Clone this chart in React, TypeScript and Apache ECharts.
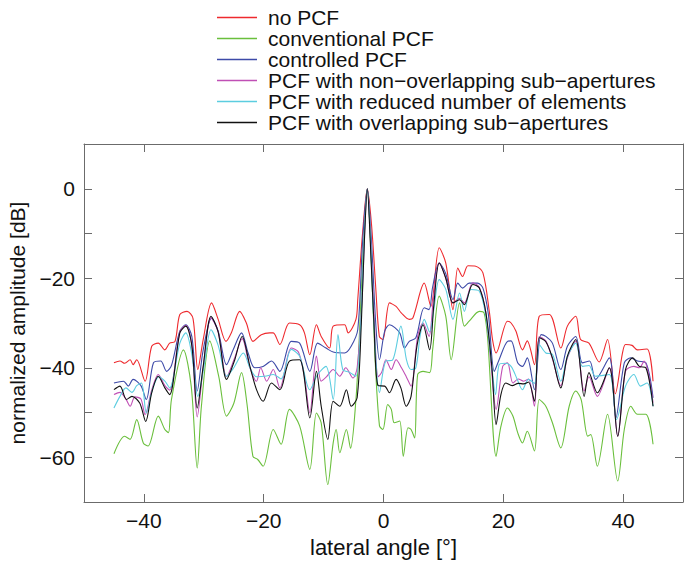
import React, { useEffect, useRef } from 'react';
import * as echarts from 'echarts';

const FONT = '"Liberation Sans", Arial, Helvetica, sans-serif';
const AXIS_COLOR = '#6b6b6b';

const seriesNames = [
  'no PCF',
  'conventional PCF',
  'controlled PCF',
  'PCF with non\u2212overlapping sub\u2212apertures',
  'PCF with reduced number of elements',
  'PCF with overlapping sub\u2212apertures',
];
const seriesColors = ['#ee2a2e', '#6abf3c', '#3d4aa8', '#c04fb5', '#5ccde0', '#111111'];

const xTicks = [-40, -20, 0, 20, 40];

// no PCF
const noPcfAngle = [-45,-44,-43.2,-42.3,-41.8,-41.2,-39.8,-38.7,-37.6,-36.5,-35.7,-34.8,-34,-32.8,-31.8,-31,-30.1,-28.7,-27.6,-26.3,-25.4,-24,-22.9,-21.8,-20.4,-19,-18.4,-17.3,-15.7,-14,-13.2,-12.3,-11.2,-10.4,-9,-8.4,-6.5,-5.9,-4.6,-4.3,-3.5,-2.7,-2.0,-1.3,-0.7,-0.1,1,2.1,3,4.3,4.9,6.8,7.9,9.3,10.4,11.6,12.4,13.2,14.1,15.4,16.6,17.7,18.2,18.8,20.7,21.3,22.1,23.2,24,25.2,26,27.7,29.6,30.7,32.1,32.9,34.3,36,37.4,38.7,39.9,40.4,41.5,42.4,44,45];
const noPcfDb = [-38.9,-38.5,-39,-38.2,-39.3,-38.2,-43,-35.2,-34.5,-36,-34.5,-34.1,-28.1,-27.4,-29,-40.4,-33.7,-25.5,-29.2,-34.1,-32.2,-27.4,-30,-34.1,-32.6,-32.2,-32.2,-34.8,-30,-30.4,-32.2,-37.1,-30.4,-33,-35.6,-30.7,-30.4,-32.2,-29.2,-24.8,-10,0,-8,-22,-33,-33.7,-25.5,-26.3,-27.8,-29.2,-28.9,-21.1,-26.3,-13.2,-16.6,-27,-17.7,-19.6,-17.2,-17.3,-18.8,-27.8,-33.7,-36.7,-29.6,-30,-31.8,-36,-34,-39.3,-28.5,-28.1,-35.6,-30.7,-28.5,-33.7,-34.5,-38.7,-33.7,-45.8,-36.7,-34.8,-35,-36,-35.8,-43];

// conventional PCF
const convAngle = [-45,-43.2,-42.3,-41.2,-40.1,-39.3,-37.6,-36.5,-35.9,-35.4,-33.4,-32.1,-31.1,-30.4,-29,-27.5,-26.2,-25,-23.7,-22.8,-21.8,-21,-20.1,-18.4,-17.1,-15.7,-14,-12.3,-11.2,-10.4,-9.3,-8.4,-7.9,-7.3,-6.2,-5.5,-4.6,-4.1,-3.4,-2.7,-2.1,-1.4,-0.67,-0.1,0.7,1.3,1.8,2.7,3.3,4.1,4.6,5.2,5.7,6.6,7.7,8.2,9.3,10.4,11.3,12.7,13.5,14.3,16,16.8,17.4,18.8,19.6,20.7,21.6,22.4,23.2,24,25.2,26,27.1,28.2,29.6,31,32.1,33,34.1,34.6,35.7,37.4,39.1,40.2,41.3,42.4,43.8,45];
const convDb = [-59.2,-55.3,-56,-51.6,-56.8,-57.5,-50.8,-53.8,-54.5,-47.1,-36,-44.1,-62.4,-48.6,-34,-42,-50.8,-48,-41.1,-48,-59.8,-60.5,-62,-53.8,-57.1,-49.3,-53,-62.7,-50.1,-52.3,-66.1,-56.8,-53.8,-59,-53.8,-58,-47.1,-35,-14,0,-14,-38,-53,-53.8,-48.2,-49.3,-52.3,-51.9,-59.8,-53.4,-53.8,-55.7,-41.5,-40.8,-41.1,-36,-24,-28.5,-38.2,-25.5,-30.7,-29.6,-27.4,-27.8,-33.7,-59.8,-53.1,-49,-50.8,-54.5,-56.8,-54.2,-58.6,-47.1,-48.6,-52.3,-57.9,-48.6,-45.2,-47.1,-55.3,-54.9,-62,-50.4,-65.3,-53.8,-48.6,-50.4,-50.4,-57.1];

// controlled PCF
const ctrlAngle = [-45,-43.4,-42.6,-41.8,-40.5,-39.6,-38.4,-37.2,-36.2,-35.4,-34,-33,-32,-31.1,-30.1,-28.7,-27.6,-26.2,-25.1,-23.7,-22.6,-21.5,-20.1,-18.7,-17.3,-15.4,-14,-12.3,-11,-9.6,-8.4,-6.5,-5.4,-4.3,-3.5,-2.7,-2.0,-1.3,-0.67,0.2,1,2.7,3.5,4.3,5.4,6.8,7.6,8.2,9.3,10.4,11.6,12.4,13.2,14.3,15.7,16.6,17.5,18.5,19.3,20.7,21.3,22.4,23.2,24,25.2,26.3,27.1,28.2,29.6,30.7,32.1,33.2,34.4,35.4,37.7,38.8,40.2,41.3,42.4,43.8,45];
const ctrlDb = [-43.4,-43,-44.1,-42.6,-44,-47.1,-38.9,-38.5,-40.8,-39.5,-31.8,-30.4,-33,-45.2,-36,-28.9,-31.8,-39.3,-36,-32.2,-36.7,-40,-39.7,-38.5,-40.8,-34.1,-34.5,-40.8,-34.5,-35.6,-36.5,-36.7,-35.2,-31.5,-12,0,-12,-30,-38.2,-31.8,-30.4,-32.2,-35.6,-34.1,-33.3,-26.6,-27,-22,-16.6,-19,-24.8,-21.1,-22.2,-21.1,-21.1,-22.2,-28,-40.8,-38.2,-34.1,-34,-38.9,-39.7,-37.8,-44.9,-32.6,-33,-34.5,-40.4,-35.2,-33,-38.9,-38.5,-42.6,-37.8,-51.2,-38.9,-37.8,-38.5,-38.9,-46.7];

// PCF with non-overlapping sub-apertures
const nonOvAngle = [-45,-44,-43,-42.3,-41.5,-40.5,-39.8,-38.7,-37.6,-36.5,-35.7,-34,-33,-32,-31.1,-30.1,-28.8,-27.6,-26.2,-24.9,-23.6,-22.3,-21.2,-20.5,-19.5,-18.4,-17.3,-15.4,-14.2,-13.2,-12.3,-11.2,-10.4,-9.5,-8.4,-7.3,-6.3,-5.1,-4.4,-3.6,-3.1,-2.7,-2.2,-1.6,-0.9,-0.3,0.4,1.3,2.1,3,3.8,4.6,5.7,6.6,7.6,8.3,9.3,10.4,11.6,12.7,13.5,14.9,16,17.1,18,18.8,19.9,20.7,21.6,22.5,23.4,24.2,25.2,26,27.1,28.2,29.6,30.7,32.1,33.5,34.3,35.7,37.7,39.1,40.4,41.8,42.7,43.5,45];
const nonOvDb = [-46,-45.5,-47,-48.6,-46.5,-47,-50.5,-45,-41.5,-44,-45,-32,-30.5,-35,-51,-40,-28.8,-32,-42,-38,-33.5,-40,-43,-40,-43,-40.4,-44.5,-35.6,-36.5,-42,-50.1,-37.4,-43,-42,-40.4,-41.9,-40,-42.3,-40,-25,-8,0,-10,-28,-42,-41,-38.2,-40.4,-38.2,-40,-42,-44.1,-33,-30,-33,-25,-16.6,-20,-25.5,-24.5,-25.5,-21,-22,-27.8,-40,-49.3,-39.7,-38.9,-43.4,-42.5,-43,-42.5,-48.6,-33,-34,-38,-44,-37.8,-34,-45.2,-42,-46.4,-40,-55.3,-40.8,-39.7,-40,-38.5,-47.8];

// PCF with reduced number of elements
const reducedAngle = [-45,-44,-43,-42,-41.2,-40.4,-39.6,-38.6,-37.5,-36.5,-35.7,-34,-33,-32,-31,-30,-28.8,-27.6,-26.2,-25,-23.4,-22.3,-21.2,-19.8,-18.4,-17.1,-15.4,-14,-12.3,-11,-9.6,-8.4,-7.6,-6.8,-5.7,-4.6,-3.8,-3.2,-2.7,-2.2,-1.6,-0.67,0.4,1.5,2.9,3.8,4.6,5.4,6.1,6.8,7.7,8.4,9.3,10.4,11.6,12.7,13.5,14.6,16,17.1,18.1,18.7,19.3,20.3,21.3,22.3,23.2,24.2,25.2,26,27.1,28.2,29.6,30.7,32.1,33.2,34.3,35.4,37.7,38.9,40.4,41.8,42.9,44,45];
const reducedDb = [-49,-46.4,-44.5,-45.5,-44,-43.4,-50.1,-45,-42,-43,-44.5,-34.5,-32.2,-37,-46.4,-40,-31.5,-35,-41.9,-40,-36.7,-40,-42,-41.9,-41.5,-42.5,-35.9,-37.4,-44.9,-41.5,-39.7,-47.1,-32.6,-40.4,-41,-41.9,-30,-10,0,-10,-30,-45.6,-38.5,-38.3,-30.7,-38,-40.4,-40,-33,-29.2,-32,-27,-20.3,-22.5,-29.2,-23.3,-27.4,-22.5,-22.9,-28.5,-40,-46,-39.3,-39,-39.7,-42.5,-44.9,-42.6,-43.5,-34.8,-36.7,-37,-43,-37.5,-34.5,-39.7,-39.5,-41.9,-41.5,-51.6,-44.1,-41.5,-44.1,-43.4,-48.6];

// PCF with overlapping sub-apertures
const ovAngle = [-45,-44,-42.9,-42,-40.7,-39.7,-38.7,-37.6,-36.5,-35.7,-34,-33,-32,-31.1,-30.1,-28.8,-27.6,-26.2,-24.9,-23.6,-22.3,-21.2,-20.1,-18.7,-17.3,-15.7,-14,-12.3,-11.2,-10.4,-9.3,-8.4,-7.3,-6.2,-5.4,-4.4,-3.7,-3.2,-2.7,-2.2,-1.6,-0.9,0.2,1,2.1,2.9,3.8,4.6,5.6,6.6,7.7,8.4,9.3,10.4,11.6,12.7,13.5,14.9,16,17.1,18.1,18.8,19.6,20.4,21.5,22.5,23.4,24.2,25.2,26,27.1,28.2,29.6,30.7,32.1,33.5,34.3,35.7,37.7,39.1,40.4,41.6,42.7,43.8,45];
const ovDb = [-44.9,-44.1,-47.1,-46.4,-47.9,-52,-45.6,-41.9,-44.5,-46,-32.2,-30.7,-35,-49,-39.7,-28.5,-32,-42.6,-38.5,-33,-39.7,-44.9,-47.5,-43.4,-44.9,-38.5,-38.2,-51.2,-40.8,-48.6,-56,-47.5,-48.6,-44.9,-48.6,-46.7,-30,-12,0,-12,-30,-44,-44.1,-45.6,-42.6,-44.5,-48.6,-46.4,-35,-30.4,-36,-26,-16.6,-20,-25.5,-24.8,-25.9,-21.4,-22.2,-27.8,-40,-52.7,-46,-43.4,-44,-43.5,-43.6,-43.2,-47.5,-33.3,-34.2,-37.8,-44.5,-37.4,-33.7,-46.4,-41.1,-45.6,-40,-55.3,-40.4,-37.8,-39.7,-40,-48.6];

const seriesAngles = [noPcfAngle, convAngle, ctrlAngle, nonOvAngle, reducedAngle, ovAngle];
const seriesDb = [noPcfDb, convDb, ctrlDb, nonOvDb, reducedDb, ovDb];

const minus = (v: number) => String(v).replace('-', '\u2212');

function buildOption() {
  const axisLineStyle = { color: AXIS_COLOR, width: 1 };
  const tickLabelStyle = { fontSize: 21, fontFamily: FONT, color: '#111' };
  const titleStyle = { fontSize: 22, fontFamily: FONT, color: '#111' };
  return {
    animation: false,
    backgroundColor: '#ffffff',
    textStyle: { fontFamily: FONT },
    grid: { left: 84, right: 1, top: 144, bottom: 63, containLabel: false, outerBoundsMode: 'none' },
    legend: {
      orient: 'vertical',
      left: 212,
      top: 2,
      icon: 'rect',
      itemWidth: 40,
      itemHeight: 1.4,
      itemGap: 0,
      selectedMode: false,
      data: seriesNames,
      textStyle: { fontSize: 21, fontFamily: FONT, color: '#111', padding: [0, 0, 0, 6] },
    },
    xAxis: [
      {
        type: 'value',
        position: 'bottom',
        min: -50,
        max: 50,
        interval: 10,
        axisLine: { show: true, onZero: false, lineStyle: axisLineStyle },
        axisTick: { show: true, inside: true, length: 8, customValues: xTicks, lineStyle: axisLineStyle },
        axisLabel: { ...tickLabelStyle, margin: 8, customValues: xTicks, formatter: (v: number) => minus(v) },
        splitLine: { show: false },
        name: 'lateral angle [\u00b0]',
        nameLocation: 'middle',
        nameGap: 34,
        nameTextStyle: { ...titleStyle },
      },
      {
        type: 'value',
        position: 'top',
        min: -50,
        max: 50,
        interval: 10,
        axisLine: { show: true, onZero: false, lineStyle: axisLineStyle },
        axisTick: { show: true, inside: true, length: 8, customValues: xTicks, lineStyle: axisLineStyle },
        axisLabel: { show: false },
        splitLine: { show: false },
      },
    ],
    yAxis: [
      {
        type: 'value',
        position: 'left',
        min: -70,
        max: 10,
        interval: 10,
        axisLine: { show: true, onZero: false, lineStyle: axisLineStyle },
        axisTick: { show: true, inside: true, length: 8, lineStyle: axisLineStyle },
        axisLabel: { ...tickLabelStyle, margin: 9, formatter: (v: number) => (v % 20 === 0 ? minus(v) : '') },
        splitLine: { show: false },
        name: 'normalized amplitude [dB]',
        nameLocation: 'middle',
        nameGap: 39,
        nameTextStyle: { ...tickLabelStyle },
      },
      {
        type: 'value',
        position: 'right',
        min: -70,
        max: 10,
        interval: 10,
        axisLine: { show: true, onZero: false, lineStyle: axisLineStyle },
        axisTick: { show: true, inside: true, length: 8, lineStyle: axisLineStyle },
        axisLabel: { show: false },
        splitLine: { show: false },
      },
    ],
    series: seriesNames.map((name, k) => ({
      name,
      type: 'line',
      xAxisIndex: 0,
      yAxisIndex: 0,
      symbol: 'none',
      smooth: 0.3,
      silent: true,
      lineStyle: { color: seriesColors[k], width: 1.1 },
      itemStyle: { color: seriesColors[k] },
      data: seriesAngles[k].map((a, i) => [a, seriesDb[k][i]]),
    })),
  };
}

export default function App() {
  const ref = useRef<HTMLDivElement>(null);
  useEffect(() => {
    if (!ref.current) return;
    const chart = echarts.init(ref.current, null, { renderer: 'svg' });
    chart.setOption(buildOption() as any);
    return () => chart.dispose();
  }, []);
  return (
    <div
      ref={ref}
      style={{ position: 'fixed', left: 0, top: 0, width: 684, height: 565, background: '#ffffff' }}
    />
  );
}
